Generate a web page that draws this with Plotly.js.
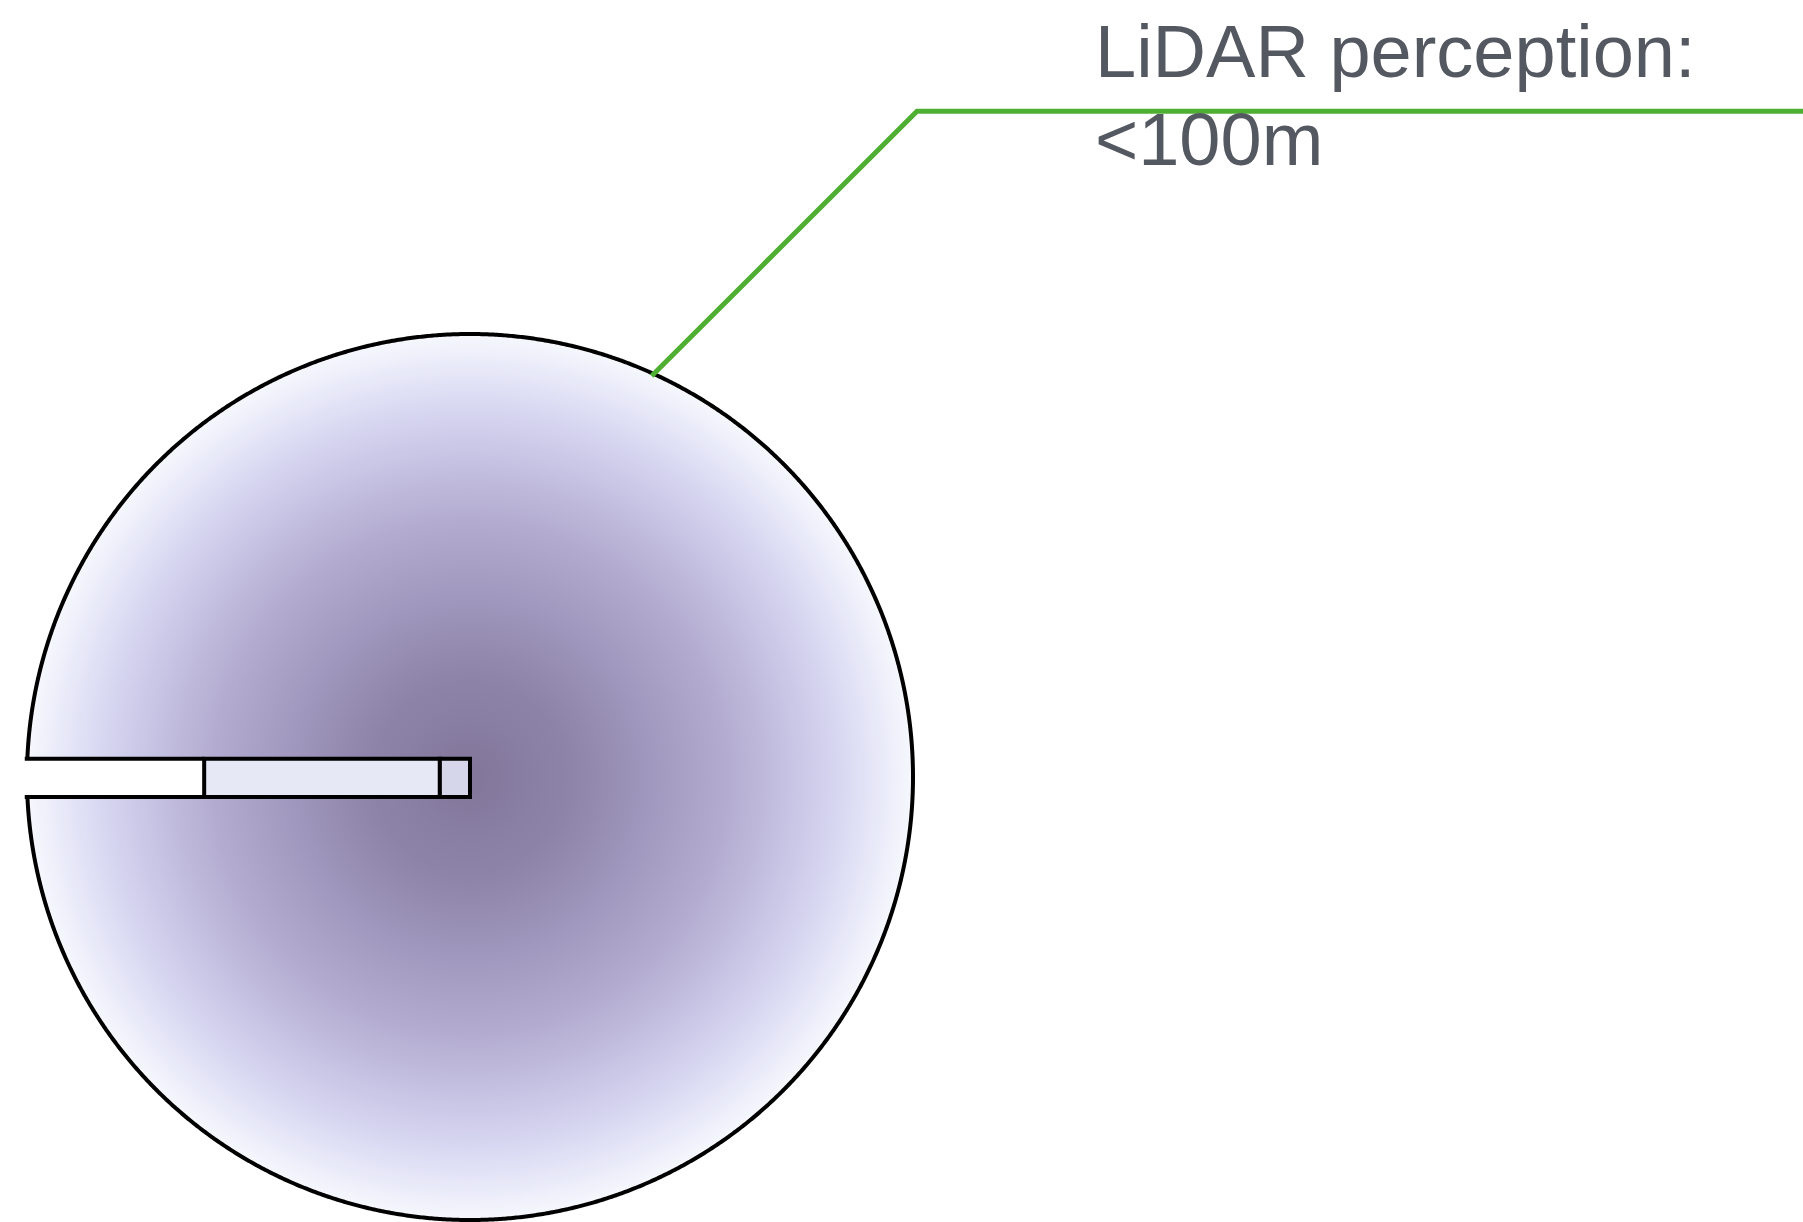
<!DOCTYPE html>
<html>
<head>
<meta charset="utf-8">
<script src="https://cdn.plot.ly/plotly-3.0.1.min.js"></script>
<style>
  html, body { margin: 0; padding: 0; background: #ffffff; }
  #chart { width: 1803px; height: 1222px; }
</style>
</head>
<body>
<div id="chart"></div>
<script>
// ---- data (metres) ----
const sensorRangeM = 100;                       // LiDAR perception radius
const labelLines = ["LiDAR perception:", "&lt;100m"];
const vehicleSegmentsX = [-101, -60, -6.8, 0];  // road / vehicle body / sensor head boundaries
const vehicleY = [-4.5, 4.1];                   // vehicle lateral extent
const leaderX = [41, 100.9, 301];               // callout line vertices
const leaderY = [90.5, 150.3, 150.3];
const labelX = 140.6;
const labelY = [163.7, 143.9];

// ---- styles ----
const gradientScale = [
  [0.00, '#82779a'],
  [0.22, '#8d82a8'],
  [0.40, '#9f97bd'],
  [0.58, '#b3acd0'],
  [0.74, '#c9c6e6'],
  [0.86, '#dcdcf4'],
  [1.00, '#f6f8fd']
];

// circle outline of perception range
const circX = [], circY = [];
for (let k = 0; k <= 1440; k++) {
  const t = (k / 1440) * 2 * Math.PI;
  circX.push(sensorRangeM * Math.cos(t));
  circY.push(sensorRangeM * Math.sin(t));
}

const traces = [
  {
    type: 'scatter', mode: 'lines',
    x: circX, y: circY,
    fill: 'toself',
    fillgradient: { type: 'radial', colorscale: gradientScale },
    line: { color: '#000000', width: 4, simplify: false },
    hoverinfo: 'skip'
  },
  {
    type: 'scatter', mode: 'lines',
    x: leaderX, y: leaderY,
    line: { color: '#4faf33', width: 5 },
    hoverinfo: 'skip'
  }
];

const s0 = vehicleSegmentsX;
const shapes = [
  // road gap (white, covers the circle outline)
  { type: 'rect', xref: 'x', yref: 'y', x0: s0[0] - 2, x1: s0[1], y0: vehicleY[0], y1: vehicleY[1],
    fillcolor: '#ffffff', line: { width: 0 }, layer: 'above' },
  // vehicle body
  { type: 'rect', xref: 'x', yref: 'y', x0: s0[1], x1: s0[2], y0: vehicleY[0], y1: vehicleY[1],
    fillcolor: '#e6e8f6', line: { color: '#000000', width: 4 }, layer: 'above' },
  // sensor head
  { type: 'rect', xref: 'x', yref: 'y', x0: s0[2], x1: s0[3], y0: vehicleY[0], y1: vehicleY[1],
    fillcolor: '#d5d6ea', line: { color: '#000000', width: 4 }, layer: 'above' },
  // road edges
  { type: 'line', xref: 'x', yref: 'y', x0: s0[0] + 0.5, x1: s0[1], y0: vehicleY[1], y1: vehicleY[1],
    line: { color: '#000000', width: 4 }, layer: 'above' },
  { type: 'line', xref: 'x', yref: 'y', x0: s0[0] + 0.5, x1: s0[1], y0: vehicleY[0], y1: vehicleY[0],
    line: { color: '#000000', width: 4 }, layer: 'above' }
];

const labelFont = { family: 'Liberation Sans, Arial, sans-serif', size: 74, color: '#545861' };
const annotations = labelLines.map((t, i) => ({
  text: t, x: labelX, y: labelY[i], xref: 'x', yref: 'y',
  xanchor: 'left', yanchor: 'middle', showarrow: false, font: labelFont
}));

const layout = {
  width: 1803, height: 1222,
  margin: { l: 0, r: 0, t: 0, b: 0, pad: 0 },
  paper_bgcolor: '#ffffff', plot_bgcolor: '#ffffff',
  showlegend: false,
  xaxis: { range: [-106.09, 300.90], visible: false, showgrid: false, zeroline: false, fixedrange: true },
  yaxis: { range: [-100.45, 175.40], visible: false, showgrid: false, zeroline: false, fixedrange: true },
  shapes: shapes,
  annotations: annotations
};

Plotly.newPlot('chart', traces, layout, { staticPlot: true, displayModeBar: false });
</script>
</body>
</html>
